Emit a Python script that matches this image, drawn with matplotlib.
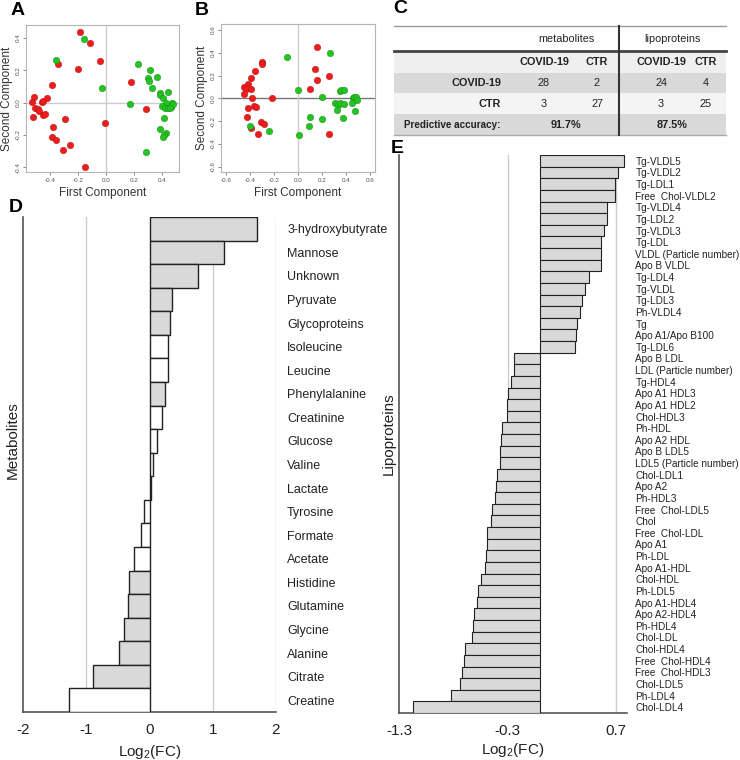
import matplotlib
matplotlib.use("Agg")
import matplotlib.pyplot as plt
from matplotlib.patches import Rectangle

plt.rcParams['font.family'] = ['Liberation Sans', 'DejaVu Sans']
plt.rcParams['mathtext.fontset'] = 'custom'
plt.rcParams['mathtext.rm'] = 'Liberation Sans'
plt.rcParams['mathtext.default'] = 'regular'

# ---- data ----
# panel A (PLS-DA scores, metabolites)
a_red_x = [-0.186, -0.117, -0.043, -0.200, -0.345, -0.386, -0.514, -0.526, -0.457, -0.452,
           -0.419, -0.510, -0.488, -0.481, -0.519, -0.452, -0.436, -0.293, -0.007, -0.379,
           -0.383, -0.357, -0.257, -0.307, -0.148, 0.179, 0.283]
a_red_y = [0.437, 0.371, 0.258, 0.206, 0.241, 0.109, 0.037, 0.002, 0.006, 0.012,
           0.027, -0.035, -0.041, -0.052, -0.089, -0.078, -0.072, -0.101, -0.124, -0.150,
           -0.212, -0.229, -0.260, -0.295, -0.398, 0.126, -0.043]
a_green_x = [-0.160, -0.360, -0.029, 0.171, 0.231, 0.312, 0.302, 0.307, 0.360, 0.331,
             0.383, 0.388, 0.440, 0.405, 0.426, 0.400, 0.419, 0.443, 0.460, 0.469,
             0.479, 0.455, 0.410, 0.388, 0.429, 0.410, 0.405, 0.283]
a_green_y = [0.396, 0.266, 0.089, -0.006, 0.241, 0.204, 0.155, 0.134, 0.161, 0.089,
             0.060, 0.049, 0.068, 0.027, 0.000, -0.019, -0.031, -0.031, -0.027, -0.004,
             -0.010, -0.035, -0.097, -0.165, -0.190, -0.204, -0.216, -0.309]

# panel B (PLS-DA scores, lipoproteins)
b_red_x = [0.158, 0.139, 0.156, 0.256, 0.100, 0.258, -0.219, -0.300, -0.300, -0.358,
           -0.397, -0.422, -0.456, -0.436, -0.394, -0.456, -0.383, -0.417, -0.372, -0.356,
           -0.431, -0.306, -0.283, -0.392, -0.339]
b_red_y = [0.450, 0.259, 0.162, 0.194, 0.079, -0.315, 0.000, 0.321, 0.300, 0.244,
           0.176, 0.124, 0.103, 0.079, 0.079, 0.038, 0.000, -0.082, -0.068, -0.074,
           -0.162, -0.206, -0.226, -0.262, -0.315]
b_green_x = [-0.094, 0.272, 0.003, 0.203, 0.097, 0.197, 0.089, 0.011, -0.400, -0.239,
             0.356, 0.361, 0.389, 0.314, 0.331, 0.350, 0.383, 0.328, 0.378, 0.461,
             0.472, 0.486, 0.494, 0.453, 0.481]
b_green_y = [0.359, 0.400, 0.074, 0.015, -0.162, -0.179, -0.244, -0.321, -0.244, -0.291,
             0.065, 0.074, 0.074, -0.044, -0.062, -0.038, -0.053, -0.103, -0.176, 0.000,
             0.009, 0.009, -0.015, -0.044, -0.112]

# panel C (confusion table)
groups = ['metabolites', 'lipoproteins']
classes = ['COVID-19', 'CTR']
met_counts = [[28, 2], [3, 27]]
lip_counts = [[24, 4], [3, 25]]
accuracy = ['91.7%', '87.5%']

# panel D
metabolites = ['3-hydroxybutyrate', 'Mannose', 'Unknown', 'Pyruvate', 'Glycoproteins',
               'Isoleucine', 'Leucine', 'Phenylalanine', 'Creatinine', 'Glucose', 'Valine',
               'Lactate', 'Tyrosine', 'Formate', 'Acetate', 'Histidine', 'Glutamine',
               'Glycine', 'Alanine', 'Citrate', 'Creatine']
met_fc = [1.70, 1.17, 0.76, 0.36, 0.32, 0.29, 0.285, 0.25, 0.20, 0.12, 0.06,
          0.025, -0.09, -0.14, -0.25, -0.32, -0.34, -0.40, -0.48, -0.89, -1.27]
met_sig = [1, 1, 1, 1, 1, 0, 0, 1, 0, 0, 0, 1, 0, 0, 0, 1, 1, 1, 1, 1, 0]

# panel E
lipoproteins = ['Tg-VLDL5', 'Tg-VLDL2', 'Tg-LDL1', 'Free  Chol-VLDL2', 'Tg-VLDL4', 'Tg-LDL2',
                'Tg-VLDL3', 'Tg-LDL', 'VLDL (Particle number)', 'Apo B VLDL', 'Tg-LDL4',
                'Tg-VLDL', 'Tg-LDL3', 'Ph-VLDL4', 'Tg', 'Apo A1/Apo B100', 'Tg-LDL6',
                'Apo B LDL', 'LDL (Particle number)', 'Tg-HDL4', 'Apo A1 HDL3', 'Apo A1 HDL2',
                'Chol-HDL3', 'Ph-HDL', 'Apo A2 HDL', 'Apo B LDL5', 'LDL5 (Particle number)',
                'Chol-LDL1', 'Apo A2', 'Ph-HDL3', 'Free  Chol-LDL5', 'Chol', 'Free  Chol-LDL',
                'Apo A1', 'Ph-LDL', 'Apo A1-HDL', 'Chol-HDL', 'Ph-LDL5', 'Apo A1-HDL4',
                'Apo A2-HDL4', 'Ph-HDL4', 'Chol-LDL', 'Chol-HDL4', 'Free  Chol-HDL4',
                'Free  Chol-HDL3', 'Chol-LDL5', 'Ph-LDL4', 'Chol-LDL4']
lip_fc = [0.77, 0.716, 0.694, 0.694, 0.62, 0.614, 0.59, 0.56, 0.556, 0.556, 0.454,
          0.41, 0.386, 0.367, 0.34, 0.33, 0.32, -0.244, -0.244, -0.27, -0.30, -0.305,
          -0.305, -0.35, -0.358, -0.37, -0.37, -0.40, -0.41, -0.42, -0.44, -0.45,
          -0.485, -0.49, -0.50, -0.51, -0.543, -0.568, -0.586, -0.608, -0.623, -0.63,
          -0.69, -0.70, -0.72, -0.74, -0.824, -1.17]

RED = '#ee1c1c'
GREEN = '#22c322'
BAR_GREY = '#d9d9d9'

W, H = 740, 760
fig = plt.figure(figsize=(W / 100, H / 100), dpi=100)


def box(left, top, right, bottom):
    return [left / W, 1 - bottom / H, (right - left) / W, (bottom - top) / H]


def scores(ax, rx, ry, gx, gy, lim_x, lim_y, ticks_x, ticks_y, hcol):
    ax.axhline(0, color=hcol, lw=1, zorder=1)
    ax.axvline(0, color='#cccccc', lw=1, zorder=1)
    ax.scatter(rx, ry, s=22, c=RED, edgecolors='#aa1111', linewidths=0.3, zorder=3)
    ax.scatter(gx, gy, s=22, c=GREEN, edgecolors='#118811', linewidths=0.3, zorder=3)
    ax.set_xlim(lim_x)
    ax.set_ylim(lim_y)
    ax.set_xticks(ticks_x)
    ax.set_xticklabels(['%.1f' % t for t in ticks_x])
    ax.set_yticks(ticks_y)
    ax.set_yticklabels(['%.1f' % t for t in ticks_y], rotation=90, va='center')
    ax.tick_params(labelsize=4.5, length=2, width=0.5, colors='#555555', pad=2)
    for s in ax.spines.values():
        s.set_color('#b5b5b5')
        s.set_linewidth(0.8)
    ax.set_xlabel('First Component', fontsize=8.5, color='#333333', labelpad=3)
    ax.set_ylabel('Second Component', fontsize=8.5, color='#333333', labelpad=2)


ax_a = fig.add_axes(box(26, 25, 179, 172))
scores(ax_a, a_red_x, a_red_y, a_green_x, a_green_y, (-0.571, 0.52), (-0.43, 0.48),
       [-0.4, -0.2, 0.0, 0.2, 0.4], [-0.4, -0.2, 0.0, 0.2, 0.4], '#cccccc')

ax_b = fig.add_axes(box(221, 24, 375, 172))
scores(ax_b, b_red_x, b_red_y, b_green_x, b_green_y, (-0.645, 0.645), (-0.647, 0.653),
       [-0.6, -0.4, -0.2, 0.0, 0.2, 0.4, 0.6], [-0.6, -0.4, -0.2, 0.0, 0.2, 0.4, 0.6],
       '#777777')

# ---- panel C table ----
ax_c = fig.add_axes(box(390, 0, 730, 140))
ax_c.set_xlim(390, 730)
ax_c.set_ylim(140, 0)
ax_c.axis('off')
col_x = [544, 597, 661, 706]
grp_x = [566, 672]
bands = [(51, 73, '#efefef'), (73, 93, '#d9d9d9'), (93, 114, '#f4f4f4'), (114, 135, '#d9d9d9')]
for y0, y1, col in bands:
    ax_c.add_patch(Rectangle((394, y0), 332, y1 - y0, facecolor=col, edgecolor='none'))
ax_c.plot([394, 726], [26, 26], color='#999999', lw=1)
ax_c.plot([394, 726], [51, 51], color='#444444', lw=2)
ax_c.plot([394, 726], [135, 135], color='#aaaaaa', lw=1)
ax_c.plot([619, 619], [26, 135], color='#333333', lw=1.5)
fs = 7.8
for g, x in zip(groups, grp_x):
    ax_c.text(x, 39, g, ha='center', va='center', fontsize=fs, color='#222222')
for i, x in enumerate(col_x):
    ax_c.text(x, 62, classes[i % 2], ha='center', va='center', fontsize=fs,
              fontweight='bold', color='#222222')
for r, (cls, yy) in enumerate(zip(classes, [83, 104])):
    ax_c.text(501, yy, cls, ha='right', va='center', fontsize=fs, fontweight='bold',
              color='#222222')
    vals = met_counts[r] + lip_counts[r]
    for x, v in zip(col_x, vals):
        ax_c.text(x, yy, str(v), ha='center', va='center', fontsize=fs, color='#222222')
ax_c.text(501, 125, 'Predictive accuracy:', ha='right', va='center', fontsize=7.1,
          fontweight='bold', color='#222222')
for x, acc in zip(grp_x, accuracy):
    ax_c.text(x, 125, acc, ha='center', va='center', fontsize=fs, fontweight='bold',
              color='#222222')

# ---- panel D ----
ax_d = fig.add_axes(box(23, 217, 276, 712))
pos_d = list(range(len(metabolites)))
ax_d.barh(pos_d, met_fc, height=1.0,
          color=[BAR_GREY if s else 'white' for s in met_sig],
          edgecolor='#222222', linewidth=1, zorder=3)
ax_d.set_xlim(-2, 2)
ax_d.set_ylim(len(metabolites) - 0.5, -0.5)
ax_d.set_xticks([-2, -1, 0, 1, 2])
ax_d.set_xticklabels(['-2', '-1', '0', '1', '2'])
for g in [-1, 1, 2]:
    ax_d.axvline(g, color='#cccccc', lw=1, zorder=1)
ax_d.yaxis.tick_right()
ax_d.set_yticks(pos_d)
ax_d.set_yticklabels(metabolites)
ax_d.tick_params(axis='y', length=0, pad=8, labelsize=9, labelcolor='#222222')
ax_d.tick_params(axis='x', length=0, pad=8, labelsize=11, labelcolor='#222222')
for s in ['top', 'right']:
    ax_d.spines[s].set_visible(False)
for s in ['left', 'bottom']:
    ax_d.spines[s].set_color('#555555')
    ax_d.spines[s].set_linewidth(1.2)
ax_d.set_xlabel('Log$_2$(FC)', fontsize=11, color='#222222', labelpad=4)
ax_d.set_ylabel('Metabolites', fontsize=11, color='#222222')
ax_d.yaxis.set_label_position('left')
ax_d.yaxis.set_label_coords(-0.012, 0.55)

# ---- panel E ----
ax_e = fig.add_axes(box(399, 155, 627, 713))
pos_e = list(range(len(lipoproteins)))
ax_e.barh(pos_e, lip_fc, height=1.0, color=BAR_GREY, edgecolor='#222222',
          linewidth=0.8, zorder=3)
ax_e.set_xlim(-1.3, 0.8)
ax_e.set_ylim(len(lipoproteins) - 0.5, -0.5)
ax_e.set_xticks([-1.3, -0.3, 0.7])
ax_e.set_xticklabels(['-1.3', '-0.3', '0.7'])
for g in [-0.3, 0.7]:
    ax_e.axvline(g, color='#cccccc', lw=1, zorder=1)
ax_e.yaxis.tick_right()
ax_e.set_yticks(pos_e)
ax_e.set_yticklabels(lipoproteins)
ax_e.tick_params(axis='y', length=0, pad=6, labelsize=7.2, labelcolor='#222222')
ax_e.tick_params(axis='x', length=0, pad=8, labelsize=11, labelcolor='#222222')
for s in ['top', 'right']:
    ax_e.spines[s].set_visible(False)
for s in ['left', 'bottom']:
    ax_e.spines[s].set_color('#555555')
    ax_e.spines[s].set_linewidth(1.2)
ax_e.set_xlabel('Log$_2$(FC)', fontsize=11, color='#222222', labelpad=2)
ax_e.set_ylabel('Lipoproteins', fontsize=11, color='#222222', labelpad=2)
ax_e.yaxis.set_label_position('left')

# panel letters
for letter, x, y in [('A', 11, 2), ('B', 195, 2), ('C', 393, 0), ('D', 9, 199), ('E', 391, 140)]:
    fig.text(x / W, 1 - y / H, letter, fontsize=14, fontweight='bold', va='top', ha='left')

fig.savefig('out.png', dpi=100)
